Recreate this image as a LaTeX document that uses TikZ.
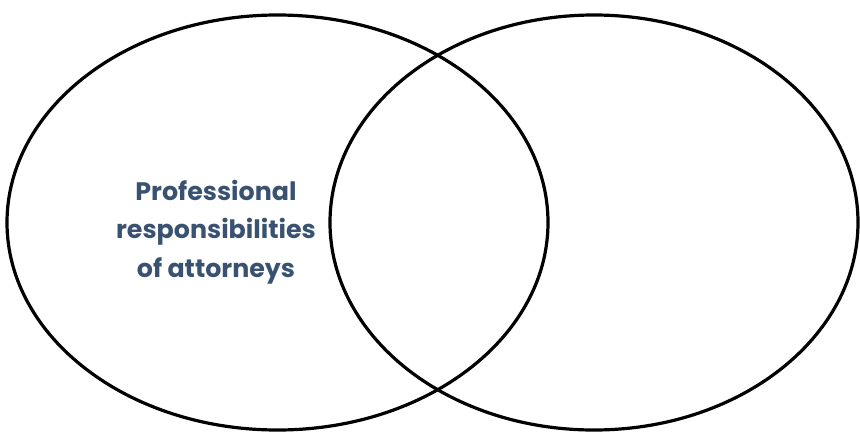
\documentclass[tikz,border=0pt]{standalone}
\usepackage{fontspec}
\usepackage{tikz}
\newfontfamily\labelfont{Poppins Bold}

\definecolor{slateblue}{HTML}{3A5272}

\begin{document}
\begin{tikzpicture}[x=0.75pt,y=0.75pt]

        % \draw[help lines] (0,0) grid (860,437);

        \def\height{207.5}

        \useasboundingbox (0,0) rectangle (860,437);

        \coordinate (L) at (277.5,214.5);
        \coordinate (R) at (594,214.5);

        \draw[line width=2.4pt] (L) ellipse [x radius=270.5, y radius=\height];
        \draw[line width=2.4pt] (R) ellipse [x radius=264, y radius=\height];

        \node[text=slateblue, align=center, font=\labelfont\fontsize{19}{29}\selectfont]
            (duties) at (216,205) {Professional\\responsibilities\\of attorneys};

        % \node (other) at (R) {};
    \end{tikzpicture}
\end{document}
